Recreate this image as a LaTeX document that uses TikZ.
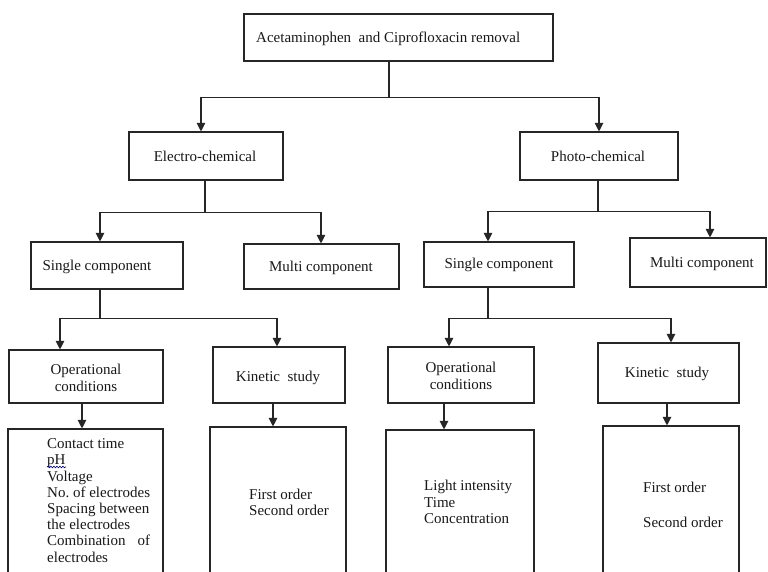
\documentclass[tikz,border=0pt]{standalone}
\usepackage{fontspec}
\setmainfont{Liberation Serif}
\usetikzlibrary{arrows.meta,calc,decorations.pathmorphing}
\frenchspacing
\tikzset{
  box/.style={draw=black!85, line width=1.1pt, rectangle, inner sep=0pt},
  lbl/.style={font=\fontsize{15}{16.2}\selectfont, inner sep=0pt, text=black!90},
  ln/.style={draw=black!85, line width=1.1pt},
  arr/.style={draw=black!85, line width=1.1pt, -{Triangle[width=8.5pt,length=8.5pt]}},
}
\begin{document}
\begin{tikzpicture}[x=1pt,y=-1pt]
\useasboundingbox (0,0) rectangle (768,572);
\fill[white] (0,0) rectangle (768,572);
\clip (0,0) rectangle (768,572);

% boxes
\node[box, minimum width=309pt, minimum height=47pt] (top) at (398.5,37.5) {};
\node[box, minimum width=154pt, minimum height=48pt] (electro) at (206,156) {};
\node[box, minimum width=158pt, minimum height=48pt] (photo) at (599,156) {};
\node[box, minimum width=152pt, minimum height=47pt] (singleL) at (107,265.5) {};
\node[box, minimum width=155pt, minimum height=45pt] (multiL) at (321.5,266.5) {};
\node[box, minimum width=150pt, minimum height=45pt] (singleR) at (499,264.5) {};
\node[box, minimum width=136pt, minimum height=49pt] (multiR) at (698,262.5) {};
\node[box, minimum width=154pt, minimum height=53pt] (opL) at (86,376.5) {};
\node[box, minimum width=132pt, minimum height=56pt] (kinL) at (279,375) {};
\node[box, minimum width=146pt, minimum height=56pt] (opR) at (461,375) {};
\node[box, minimum width=141pt, minimum height=60pt] (kinR) at (668.5,373) {};
\node[box, minimum width=155pt, minimum height=171pt] (contact) at (85.5,514.5) {};
\node[box, minimum width=136pt, minimum height=173pt] (firstL) at (278,513.5) {};
\node[box, minimum width=148pt, minimum height=170pt] (light) at (460,515) {};
\node[box, minimum width=136pt, minimum height=174pt] (firstR) at (671,513) {};

% texts
\node[lbl, anchor=west] (t-top) at (256,39) {Acetaminophen\ \ and Ciprofloxacin removal};
\node[lbl] (t-electro) at (205,156) {Electro-chemical};
\node[lbl] (t-photo) at (598,156) {Photo-chemical};
\node[lbl] (t-singleL) at (97,267) {Single component};
\node[lbl] (t-multiL) at (321,268) {Multi component};
\node[lbl] (t-singleR) at (499,265) {Single component};
\node[lbl] (t-multiR) at (702,264) {Multi component};
\node[lbl, align=center] (t-opL) at (86,377.5) {Operational\\[0.8pt]conditions};
\node[lbl] (t-kinL) at (278,378) {Kinetic\ \ study};
\node[lbl, align=center] (t-opR) at (461,375.5) {Operational\\[0.8pt]conditions};
\node[lbl] (t-kinR) at (667,374) {Kinetic\ \ study};
\node[lbl, align=left, anchor=west] (t-contact) at (47,500.5) {Contact time\\pH\\Voltage\\No. of electrodes\\Spacing between\\the electrodes\\\makebox[103pt][s]{Combination of}\\electrodes};
\node[lbl, align=left, anchor=west] (t-firstL) at (249,502) {First order\\Second order};
\node[lbl, align=left, anchor=west] (t-light) at (424,502) {Light intensity\\Time\\Concentration};
\node[lbl, align=left, anchor=west] (t-firstR) at (643,504.5) {First order\\[19pt]Second order};

% spell-check underline under pH
\draw[blue!60!black, line width=0.6pt, decorate, decoration={snake, amplitude=0.8pt, segment length=3pt}] (47,467) -- (66,467);

% connectors
\draw[ln] ([xshift=-9.5]top.south) -- ++(0,36) coordinate (j0);
\draw[arr] (j0) -| ([xshift=-5]electro.north);
\draw[arr] (j0) -| (photo.north);

\draw[ln] ([xshift=-1]electro.south) -- ++(0,32) coordinate (j1);
\draw[arr] (j1) -| ([xshift=-7]singleL.north);
\draw[arr] (j1) -| ([xshift=-0.5]multiL.north);

\draw[ln] ([xshift=-1]photo.south) -- ++(0,31) coordinate (j2);
\draw[arr] (j2) -| ([xshift=-11]singleR.north);
\draw[arr] (j2) -| ([xshift=12]multiR.north);

\draw[ln] ([xshift=-7]singleL.south) -- ++(0,29) coordinate (j3);
\draw[arr] (j3) -| ([xshift=-26]opL.north);
\draw[arr] (j3) -| ([xshift=-2]kinL.north);

\draw[ln] ([xshift=-11]singleR.south) -- ++(0,31) coordinate (j4);
\draw[arr] (j4) -| ([xshift=-12]opR.north);
\draw[arr] (j4) -| ([xshift=2.5]kinR.north);

\draw[arr] ([xshift=-4]opL.south) -- ([xshift=-3.5]contact.north);
\draw[arr] ([xshift=-6]kinL.south) -- ([xshift=-5]firstL.north);
\draw[arr] ([xshift=-17]opR.south) -- ([xshift=-16]light.north);
\draw[arr] ([xshift=-1.5]kinR.south) -- ([xshift=-4]firstR.north);
\end{tikzpicture}
\end{document}
